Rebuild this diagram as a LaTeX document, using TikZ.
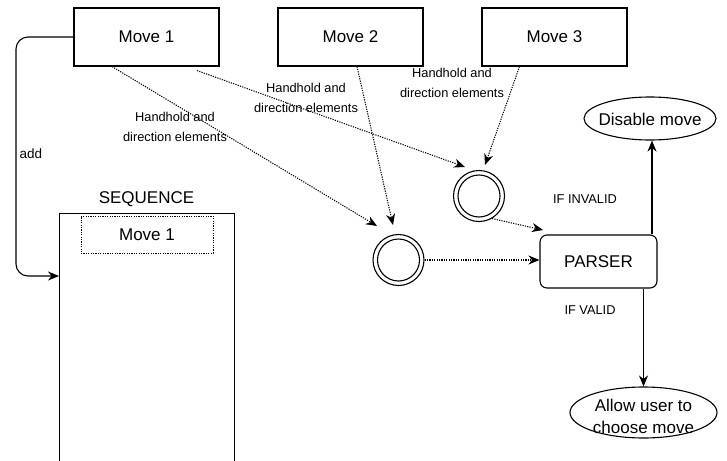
\documentclass[tikz,border=0pt]{standalone}
\usepackage{fontspec}
\setmainfont{Liberation Sans}
\usetikzlibrary{arrows.meta,shapes.geometric}
\begin{document}
\begin{tikzpicture}[x=1pt,y=-1pt,
  bigfont/.style={font=\fontsize{17}{22}\selectfont},
  lab/.style={font=\fontsize{12.8}{20}\selectfont, align=center, inner sep=0pt},
  movebox/.style={draw, line width=1.1pt, minimum width=145pt, minimum height=58pt, inner sep=0pt, bigfont},
  dcirc/.style={draw, circle, line width=1.1pt, minimum size=51pt, inner sep=0pt},
  ell/.style={draw, ellipse, line width=1.1pt, inner sep=0pt},
  arr/.style={line width=1.1pt, -{Stealth[length=11pt,width=9pt,inset=3.5pt]}},
  dotarr/.style={line width=1.05pt, dash pattern=on 1.2pt off 1.2pt, -{Stealth[length=11pt,width=9pt,inset=3.5pt]}}
]
\useasboundingbox (0,0) rectangle (727,460);
\clip (0,0) rectangle (727,460);

% top boxes
\node[movebox] (m1) at (146.5,37) {Move 1};
\node[movebox] (m2) at (350.5,37) {Move 2};
\node[movebox] (m3) at (554.5,37) {Move 3};

% sequence
\node[bigfont, inner sep=0pt] (seqlab) at (146.5,199) {SEQUENCE};
\node[draw, line width=1.1pt, minimum width=175pt, minimum height=260pt, inner sep=0pt, anchor=north west] (seq) at (59,213) {};
\node[draw, line width=0.9pt, dash pattern=on 1.2pt off 1.2pt, minimum width=132pt, minimum height=37pt, inner sep=0pt, bigfont] (seqm1) at (147,234.5) {Move 1};

% double circles
\node[dcirc] (c1) at (398.5,260) {};
\draw[line width=1.1pt] (c1.center) circle (21pt);
\node[dcirc] (c2) at (479,196) {};
\draw[line width=1.1pt] (c2.center) circle (21pt);

% parser and outcomes
\node[draw, line width=1.1pt, rounded corners=7pt, minimum width=117pt, minimum height=53pt, inner sep=0pt, bigfont] (parser) at (598.5,261.5) {PARSER};
\node[ell, minimum width=132pt, minimum height=43pt] (dis) at (650,118.5) {};
\node[bigfont, inner sep=0pt] (distxt) at (650,119.5) {Disable move};
\node[ell, minimum width=147pt, minimum height=51pt] (allow) at (643.5,412.5) {};
\node[bigfont, align=center, inner sep=0pt] (allowtxt) at (643.5,416) {Allow user to\\choose move};

% labels
\node[lab] (l1) at (175,127) {Handhold and\\direction elements};
\node[lab] (l2) at (306,98) {Handhold and\\direction elements};
\node[lab] (l3) at (452,83) {Handhold and\\direction elements};
\node[lab, font=\fontsize{13.5}{16}\selectfont] (addlab) at (31,154) {add};
\node[lab] (inv) at (585,199) {IF INVALID};
\node[lab] (val) at (590,310) {IF VALID};

% arrow end points
\coordinate (t11) at (377,226);
\coordinate (t12) at (393,225);
\coordinate (t21) at (465,167);
\coordinate (t23) at (485,165);
\coordinate (tp) at (543,230);

% connectors
\draw[arr, rounded corners=12pt] (m1.west) -| (16,150) |- ([yshift=-63pt]seq.north west);
\draw[dotarr] ([xshift=-34.5pt]m1.south) -- (t11);
\draw[dotarr] ([xshift=50.5pt,yshift=-4pt]m1.south) -- (t21);
\draw[dotarr] ([xshift=6.5pt]m2.south) -- (t12);
\draw[dotarr] ([xshift=-35pt]m3.south) -- (t23);
\draw[dotarr] (c2.-60) -- (tp);
\draw[dotarr] (c1.east) -- (parser.west |- c1.east);
\draw[arr] ([xshift=2pt]dis.south |- parser.north) -- ([xshift=2pt]dis.south);
\draw[arr] (allow.north |- parser.south) -- (allow.north);
\end{tikzpicture}
\end{document}
